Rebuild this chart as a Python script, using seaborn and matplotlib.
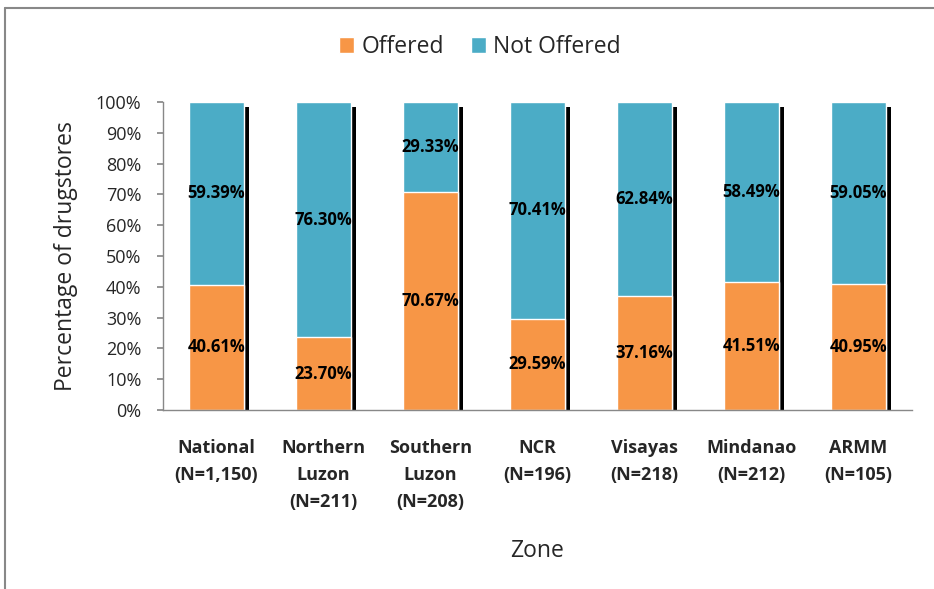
import matplotlib
matplotlib.use("Agg")
import matplotlib.pyplot as plt
import matplotlib.patheffects as pe
from matplotlib.patches import Patch
from matplotlib.lines import Line2D
import seaborn as sns
import pandas as pd

zones = ["National\n(N=1,150)", "Northern\nLuzon\n(N=211)", "Southern\nLuzon\n(N=208)",
         "NCR\n(N=196)", "Visayas\n(N=218)", "Mindanao\n(N=212)", "ARMM\n(N=105)"]
offered = [40.61, 23.70, 70.67, 29.59, 37.16, 41.51, 40.95]
not_offered = [59.39, 76.30, 29.33, 70.41, 62.84, 58.49, 59.05]
yticks = [0, 10, 20, 30, 40, 50, 60, 70, 80, 90, 100]

ORANGE = "#F79646"
BLUE = "#4BACC6"

sns.set_theme(style="white")
plt.rcParams["font.family"] = ["Open Sans", "DejaVu Sans"]

df = pd.DataFrame({"zone": zones, "offered": offered, "not_offered": not_offered})
df["total"] = df["offered"] + df["not_offered"]

fig = plt.figure(figsize=(9.34, 5.89), dpi=100)
ax = fig.add_axes([163/934, 1-410/589, (912-163)/934, (410-102)/589])

sns.barplot(data=df, x="zone", y="total", color=BLUE, saturation=1, width=0.51, ax=ax)
blue_patches = list(ax.patches)
for p in blue_patches:
    p.set_path_effects([pe.SimplePatchShadow(offset=(3.6, -3.6), shadow_rgbFace="black", alpha=1.0), pe.Normal()])
sns.barplot(data=df, x="zone", y="offered", color=ORANGE, saturation=1, width=0.51, ax=ax)

for i, (o, n) in enumerate(zip(offered, not_offered)):
    ax.text(i, o/2, f"{o:.2f}%", ha="center", va="center", fontsize=12, fontweight="bold", color="black")
    ax.text(i, o + n/2, f"{n:.2f}%", ha="center", va="center", fontsize=12, fontweight="bold", color="black")

ax.set_xlim(-0.5, len(zones) - 0.5)
ax.set_ylim(0, 100)
ax.set_yticks(yticks)
ax.set_yticklabels([f"{t}%" for t in yticks], fontsize=13)
ax.tick_params(axis="y", length=4.5, color="#888888", left=True, pad=11)
ax.tick_params(axis="x", length=0, pad=21)
for lbl in ax.get_xticklabels():
    lbl.set_fontweight("bold")
    lbl.set_fontsize(13)
    lbl.set_linespacing(1.65)
    lbl.set_verticalalignment("top")

for s in ["top", "right"]:
    ax.spines[s].set_visible(False)
for s in ["left", "bottom"]:
    ax.spines[s].set_color("#888888")
    ax.spines[s].set_linewidth(1)

ax.set_xlabel("Zone", fontsize=16.5, labelpad=20)
ax.set_ylabel("Percentage of drugstores", fontsize=16.5, labelpad=13)

handles = [Patch(facecolor=ORANGE, label="Offered"), Patch(facecolor=BLUE, label="Not Offered")]
fig.legend(handles=handles, loc="center", bbox_to_anchor=(480/934, 1-47/589), ncol=2,
           frameon=False, fontsize=16.5, handlelength=0.65, handleheight=0.65,
           handletextpad=0.3, columnspacing=1.2)

# outer chart border (top and left edges visible)
fig.add_artist(Line2D([5/934, 1], [1-8/589, 1-8/589], color="#888888", lw=1.5, transform=fig.transFigure))
fig.add_artist(Line2D([5/934, 5/934], [0, 1-8/589], color="#888888", lw=1.5, transform=fig.transFigure))

fig.savefig("out.png", dpi=100)
